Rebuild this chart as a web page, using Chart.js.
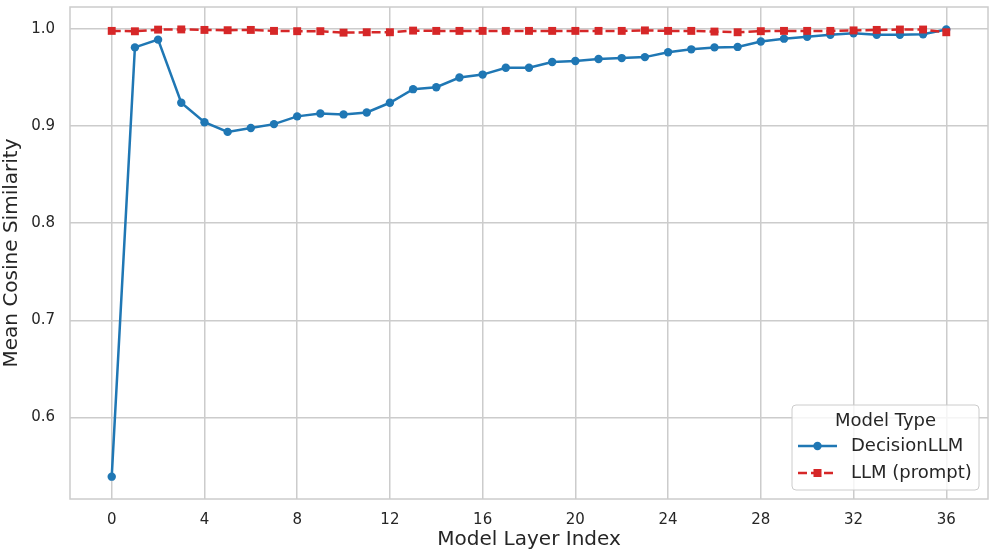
<!DOCTYPE html>
<html>
<head>
<meta charset="utf-8">
<script src="https://cdn.jsdelivr.net/npm/chart.js@4/dist/chart.umd.min.js"></script>
<style>
  html, body { margin: 0; padding: 0; background: #fff; }
  #wrap { width: 996px; height: 559px; }
</style>
</head>
<body>
<div id="wrap"><canvas id="cosChart" width="996" height="559"></canvas></div>
<script>
// layer indices 0..36
const layers = [0, 1, 2, 3, 4, 5, 6, 7, 8, 9, 10, 11, 12, 13, 14, 15, 16, 17, 18,
  19, 20, 21, 22, 23, 24, 25, 26, 27, 28, 29, 30, 31, 32, 33, 34, 35, 36];

const decisionLLM = [0.539, 0.981, 0.989, 0.924, 0.904, 0.894, 0.898, 0.902, 0.910, 0.913,
  0.912, 0.914, 0.924, 0.938, 0.940, 0.950, 0.953, 0.960, 0.960, 0.966,
  0.967, 0.969, 0.970, 0.971, 0.976, 0.979, 0.981, 0.9815, 0.987, 0.990,
  0.992, 0.994, 0.9955, 0.994, 0.994, 0.9945, 0.9995];

const llmPrompt = [0.998, 0.9976, 0.9993, 0.9995, 0.999, 0.9987, 0.999, 0.998, 0.9977, 0.9977,
  0.9962, 0.9966, 0.9966, 0.9983, 0.998, 0.998, 0.998, 0.998, 0.998, 0.998,
  0.998, 0.998, 0.998, 0.9985, 0.998, 0.998, 0.9973, 0.9966, 0.9977, 0.998,
  0.998, 0.998, 0.9985, 0.999, 0.9994, 0.9994, 0.9966];

const xTicks = [0, 4, 8, 12, 16, 20, 24, 28, 32, 36];
const yTicks = [0.6, 0.7, 0.8, 0.9, 1.0];

const seriesNames = ['DecisionLLM', 'LLM (prompt)'];
const legendTitle = 'Model Type';

const BLUE = '#1f77b4';
const RED = '#d62728';
const TEXT = '#262626';
const GRID = '#cccccc';
const FONT = "'DejaVu Sans', sans-serif";

const toPoints = vals => vals.map((v, i) => ({ x: layers[i], y: v }));

// box around plot + legend inside lower right
const framePlugin = {
  id: 'frame',
  beforeDatasetsDraw(chart) {
    const { ctx, chartArea: a } = chart;
    ctx.save();
    ctx.strokeStyle = GRID;
    ctx.lineWidth = 1.5;
    ctx.strokeRect(a.left, a.top, a.right - a.left, a.bottom - a.top);
    ctx.restore();
  },
  afterDraw(chart) {
    const { ctx, chartArea: a } = chart;
    const w = 187, h = 85;
    const x0 = a.right - 9 - w, y0 = a.bottom - 9 - h;
    ctx.save();
    ctx.beginPath();
    ctx.roundRect(x0, y0, w, h, 4);
    ctx.fillStyle = 'rgba(255,255,255,0.8)';
    ctx.fill();
    ctx.strokeStyle = GRID;
    ctx.lineWidth = 1;
    ctx.stroke();

    ctx.fillStyle = TEXT;
    ctx.font = '18px ' + FONT;
    ctx.textBaseline = 'middle';
    ctx.textAlign = 'center';
    ctx.fillText(legendTitle, x0 + w / 2, y0 + 16);

    const rows = [
      { y: y0 + 41, color: BLUE, dash: [], style: 'circle' },
      { y: y0 + 68, color: RED, dash: [9, 4], style: 'rect' }
    ];
    rows.forEach((r, i) => {
      const lx = x0 + 6, rx = x0 + 45, mx = (lx + rx) / 2;
      ctx.strokeStyle = r.color;
      ctx.lineWidth = 2.5;
      ctx.setLineDash(r.dash);
      ctx.beginPath();
      ctx.moveTo(lx, r.y);
      ctx.lineTo(rx, r.y);
      ctx.stroke();
      ctx.setLineDash([]);
      ctx.fillStyle = r.color;
      if (r.style === 'circle') {
        ctx.beginPath();
        ctx.arc(mx, r.y, 4.2, 0, Math.PI * 2);
        ctx.fill();
      } else {
        ctx.fillRect(mx - 4, r.y - 4, 8, 8);
      }
      ctx.fillStyle = TEXT;
      ctx.textAlign = 'left';
      ctx.fillText(seriesNames[i], x0 + 59, r.y);
    });
    ctx.restore();
  }
};

const ctx = document.getElementById('cosChart').getContext('2d');
const cosChart = new Chart(ctx, {
  type: 'line',
  data: {
    datasets: [{
      label: seriesNames[0],
      data: toPoints(decisionLLM),
      borderColor: BLUE,
      backgroundColor: BLUE,
      borderWidth: 2.5,
      pointRadius: 4.2,
      pointBorderWidth: 0,
      pointBackgroundColor: BLUE,
      tension: 0,
      order: 1
    }, {
      label: seriesNames[1],
      data: toPoints(llmPrompt),
      borderColor: RED,
      backgroundColor: RED,
      borderWidth: 2.5,
      borderDash: [9, 4],
      pointStyle: 'rect',
      pointRadius: 5.6,
      pointBorderWidth: 0,
      pointBackgroundColor: RED,
      tension: 0,
      order: 0
    }]
  },
  options: {
    responsive: false,
    animation: false,
    layout: { padding: { top: 7, right: 8, bottom: 0, left: 0 } },
    plugins: {
      legend: { display: false },
      tooltip: { enabled: false }
    },
    scales: {
      x: {
        type: 'linear',
        min: -1.8,
        max: 37.8,
        afterBuildTicks: scale => { scale.ticks = xTicks.map(v => ({ value: v })); },
        afterFit: scale => {
          scale.height = 60;
          scale.paddingLeft = 0;
          scale.paddingRight = 0;
        },
        grid: { color: GRID, lineWidth: 1.5, drawTicks: false },
        border: { display: false },
        ticks: { color: TEXT, font: { family: FONT, size: 15 }, padding: 12, maxRotation: 0 },
        title: {
          display: true,
          text: 'Model Layer Index',
          color: TEXT,
          font: { family: FONT, size: 20 },
          padding: { top: 0, bottom: 7 }
        }
      },
      y: {
        min: 0.516,
        max: 1.0226,
        afterBuildTicks: scale => { scale.ticks = yTicks.map(v => ({ value: v })); },
        afterFit: scale => {
          scale.width = 70;
          scale.paddingTop = 0;
          scale.paddingBottom = 0;
        },
        grid: { color: GRID, lineWidth: 1.5, drawTicks: false },
        border: { display: false },
        ticks: {
          color: TEXT,
          font: { family: FONT, size: 15 },
          padding: 15,
          callback: v => v.toFixed(1)
        },
        title: {
          display: true,
          text: 'Mean Cosine Similarity',
          color: TEXT,
          font: { family: FONT, size: 20 },
          padding: { top: 0, bottom: 0 }
        }
      }
    }
  },
  plugins: [framePlugin]
});
</script>
</body>
</html>
